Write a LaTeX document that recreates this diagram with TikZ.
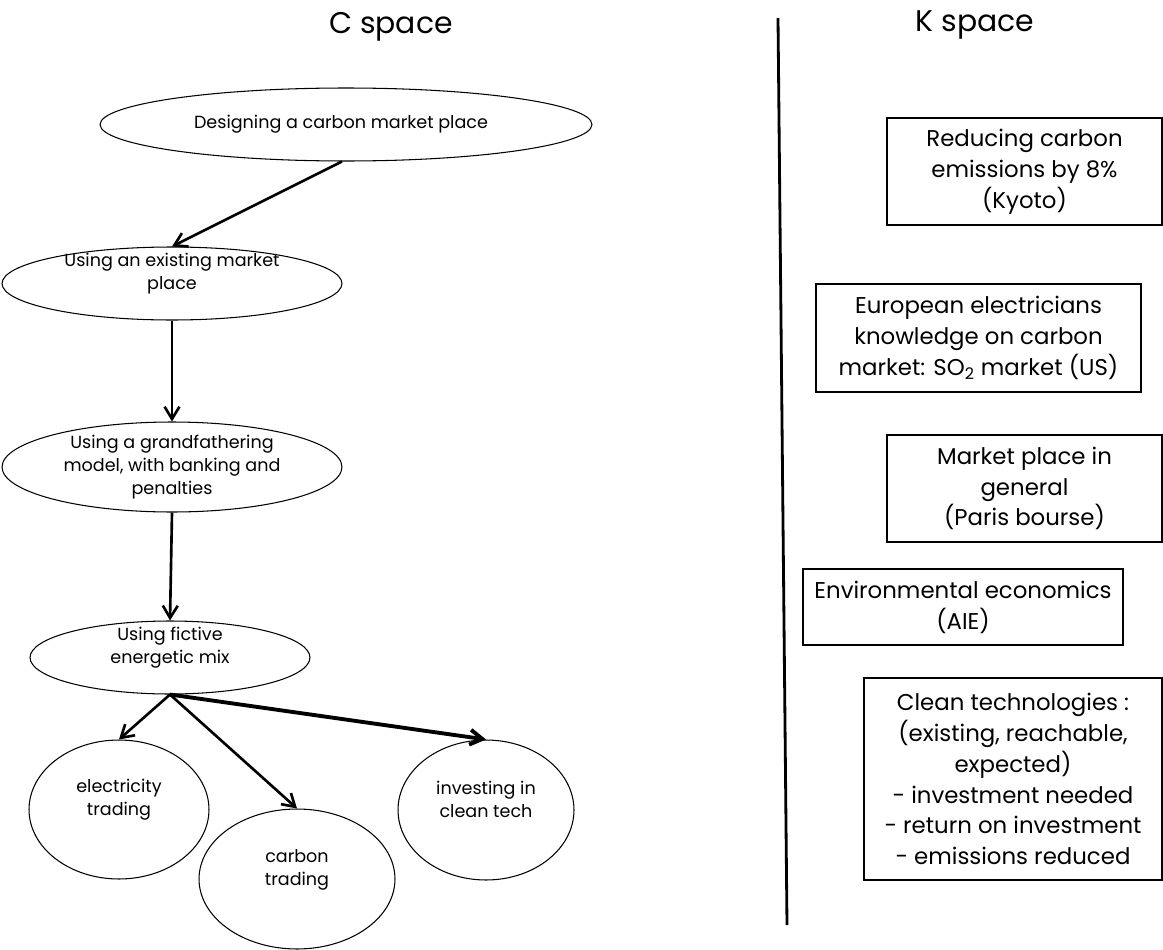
\documentclass[tikz,border=0pt]{standalone}
\usepackage{fontspec}
\setmainfont{Poppins}
\usetikzlibrary{shapes.geometric,arrows.meta}

\begin{document}
\begin{tikzpicture}[x=0.02cm, y=-0.02cm,
    cell/.style={ellipse, draw=borderColour, line width=0.6pt, inner sep=0pt},
    celltext/.style={align=center, inner sep=0pt, font=\fontsize{10}{13}\selectfont},
    kbox/.style={draw=borderColour, line width=0.8pt, inner sep=0pt, align=center, font=\fontsize{13}{17.6}\selectfont},
    spacetitle/.style={inner sep=0pt, font=\fontsize{17}{20}\selectfont},
    link/.style={line width=1.5pt, -{Straight Barb[length=7pt,width=8.5pt]}}]
    \definecolor{borderColour}{HTML}{000000}

    % Page
    \fill[white] (0,0) rectangle (1163,950);
    \useasboundingbox (0,0) rectangle (1163,950);

    % Titles and divider
    \node[spacetitle] (ctitle) at (391,27) {C space};
    \node[spacetitle] (ktitle) at (975,25) {K space};
    \coordinate (divtop) at (778,18);
    \coordinate (divbot) at (787,925);
    \draw[line width=1.6pt] (divtop) -- (divbot);

    % C space: concepts
    \node[cell, minimum width=9.84cm, minimum height=1.46cm] (design) at (346,124.5) {};
    \node[celltext] (design-t) at ([xshift=-0.1cm]design) {Designing a carbon market place};

    \node[cell, minimum width=6.8cm, minimum height=1.46cm] (existing) at (172,283.5) {};
    \node[celltext] (existing-t) at ([yshift=0.2cm]existing) {Using an existing market\\place};

    \node[cell, minimum width=6.8cm, minimum height=1.8cm] (grand) at (172,467) {};
    \node[celltext] (grand-t) at (grand) {Using a grandfathering\\model, with banking and\\penalties};

    \node[cell, minimum width=5.6cm, minimum height=1.46cm] (mix) at (170,657.5) {};
    \node[celltext] (mix-t) at ([yshift=0.2cm]mix) {Using fictive\\energetic mix};

    \node[cell, minimum width=3.6cm, minimum height=2.78cm] (elec) at (119,809.5) {};
    \node[celltext] (elec-t) at ([yshift=0.2cm]elec) {electricity\\trading};

    \node[cell, minimum width=3.92cm, minimum height=2.8cm] (carbon) at (297,879) {};
    \node[celltext] (carbon-t) at ([yshift=0.18cm]carbon) {carbon\\trading};

    \node[cell, minimum width=3.52cm, minimum height=2.8cm] (invest) at (486,810) {};
    \node[celltext] (invest-t) at ([yshift=0.22cm]invest) {investing in\\clean tech};

    % C space: expansions
    \draw[link] ([xshift=-0.08cm]design.south) -- (existing.north);
    \draw[link] (existing.south) -- (grand.north);
    \draw[link] (grand.south) -- (mix.north);
    \foreach \child in {elec,carbon}
        \draw[link] (mix.south) -- (\child.north);
    \draw[link, line width=2.2pt] (mix.south) -- (invest.north);

    % K space: knowledge
    \node[kbox, minimum width=5.5cm, minimum height=2.14cm] (kyoto) at (1024.5,171.5) {Reducing carbon\\emissions by 8\%\\(Kyoto)};
    \node[kbox, minimum width=6.5cm, minimum height=2.16cm] (sotwo) at (978.5,338) {European electricians\\knowledge on carbon\\market: SO\textsubscript{2} market (US)};
    \node[kbox, minimum width=5.5cm, minimum height=2.14cm] (bourse) at (1024.5,488.5) {Market place in\\general\\(Paris bourse)};
    \node[kbox, minimum width=6.4cm, minimum height=1.52cm] (aie) at (963,607) {Environmental economics\\(AIE)};
    \node[kbox, minimum width=5.96cm, minimum height=4.04cm] (clean) at (1013,779) {Clean technologies :\\(existing, reachable,\\expected)\\- investment needed\\- return on investment\\- emissions reduced};

\end{tikzpicture}
\end{document}
